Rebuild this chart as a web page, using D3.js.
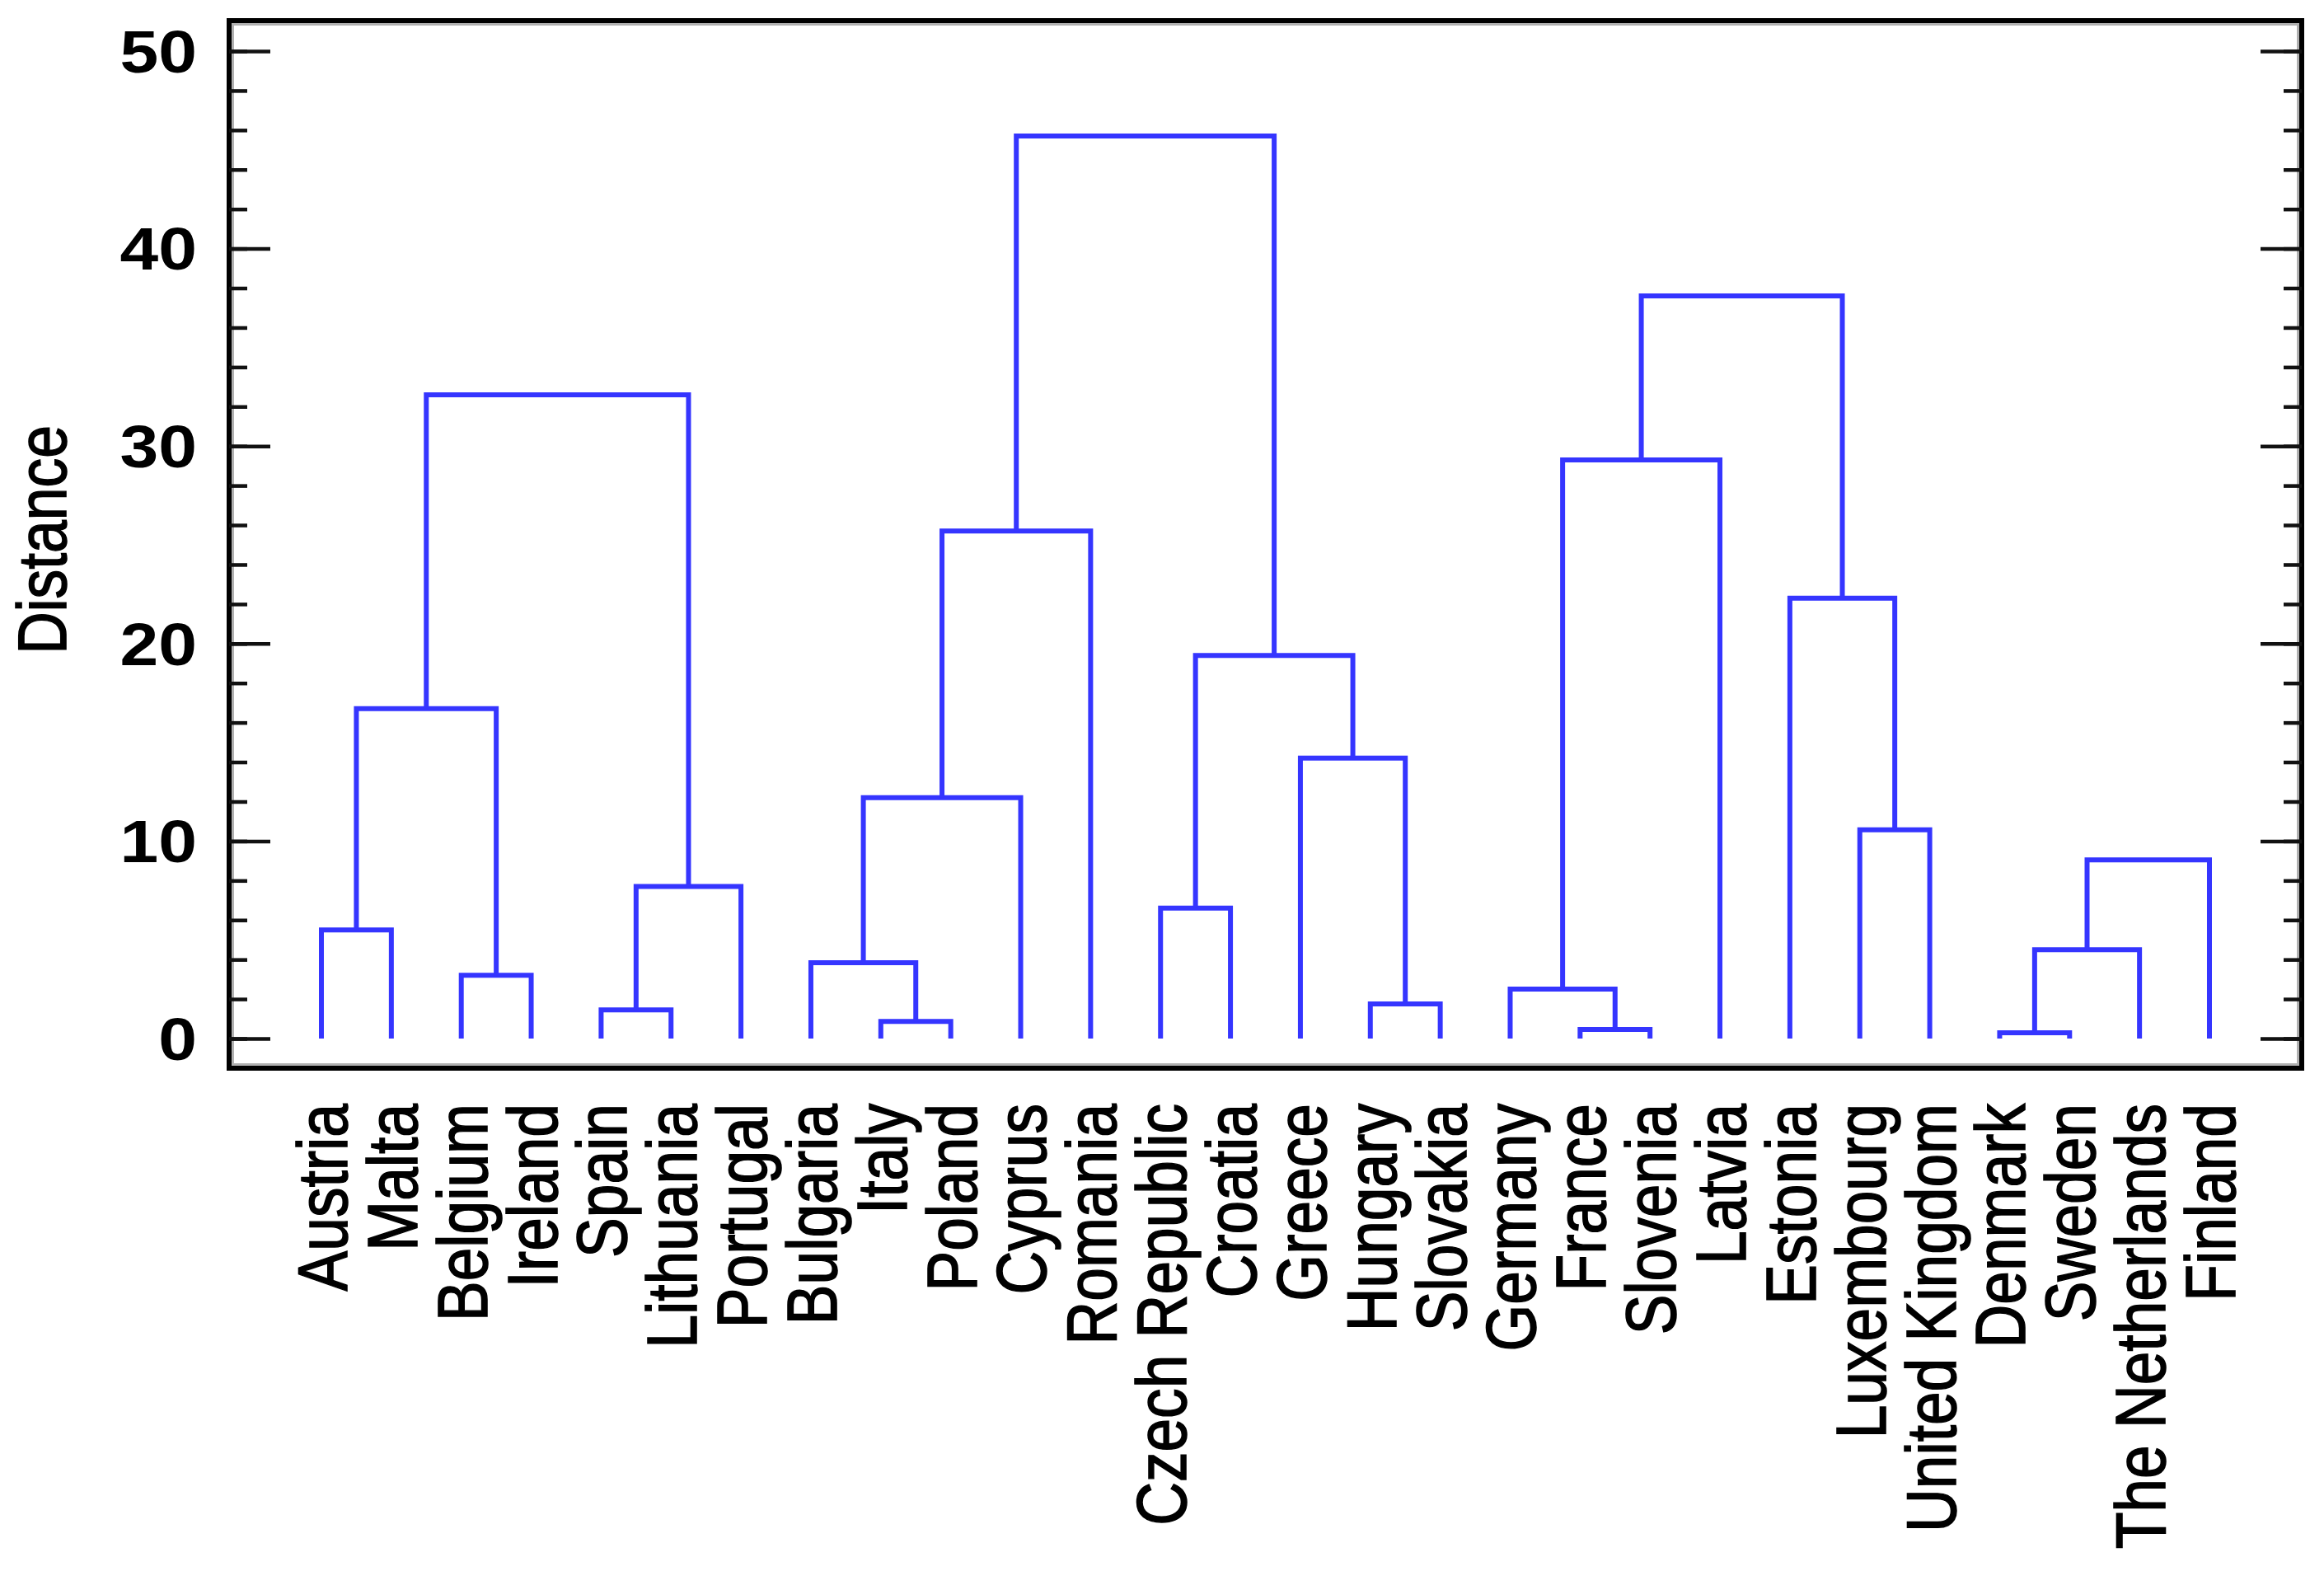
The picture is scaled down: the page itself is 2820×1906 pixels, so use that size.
<!DOCTYPE html>
<html>
<head>
<meta charset="utf-8">
<script src="https://cdn.jsdelivr.net/npm/d3@7"></script>
<style>
  body { margin: 0; background: #fff; }
  svg { display: block; }
  .label { font-family: "Liberation Sans", Arial, sans-serif; }
  .thick { stroke: #000; stroke-width: 1.6px; }
</style>
</head>
<body>
<div id="chart"></div>
<script>
// Leaves in dendrogram order (left to right)
var leaves = ["Austria", "Malta", "Belgium", "Ireland", "Spain", "Lithuania", "Portugal",
  "Bulgaria", "Italy", "Poland", "Cyprus", "Romania", "Czech Republic", "Croatia", "Greece",
  "Hungary", "Slovakia", "Germany", "France", "Slovenia", "Latvia", "Estonia", "Luxembourg",
  "United Kingdom", "Denmark", "Sweden", "The Netherlands", "Finland"];

// Merge steps: ids < 28 are leaves, id 28 + k is merge k.
var leftIds  = [0, 2, 28, 4, 31, 30, 8, 7, 35, 36, 12, 15, 14, 38, 37, 18, 17, 44, 22, 21, 45, 24, 49, 50];
var rightIds = [1, 3, 29, 5, 6, 32, 9, 34, 10, 11, 13, 16, 39, 40, 41, 19, 43, 20, 23, 46, 47, 25, 26, 27];
var heights  = [5.5, 3.2, 16.7, 1.45, 7.7, 32.6, 0.87, 3.84, 12.2, 25.7, 6.6, 1.75, 14.2, 19.4, 45.7,
  0.46, 2.5, 29.3, 10.57, 22.3, 37.6, 0.29, 4.5, 9.05];

var yTickValues = [0, 10, 20, 30, 40, 50];
var yTickLabels = ["0", "10", "20", "30", "40", "50"];
var yLabel = "Distance";

var W = 2820, H = 1906;
var frame = {left: 278, top: 25, right: 2793, bottom: 1296};
var squash = 0.85;   // text in the source is vertically compressed

var svg = d3.select("#chart").append("svg")
    .attr("width", W)
    .attr("height", H);

var x = d3.scalePoint()
    .domain(leaves)
    .range([frame.left, frame.right])
    .padding(1.32);

var y = d3.scaleLinear()
    .domain([0, 50])
    .range([1260, 62]);

// Node positions
var n = leaves.length;
var nodeX = [], nodeH = [];
leaves.forEach(function(d, i) { nodeX[i] = x(d); nodeH[i] = 0; });
heights.forEach(function(h, k) {
  var l = leftIds[k], r = rightIds[k];
  nodeX[n + k] = (nodeX[l] + nodeX[r]) / 2;
  nodeH[n + k] = h;
});

// Dendrogram links
svg.append("g")
    .selectAll("path")
    .data(heights)
    .enter().append("path")
    .attr("fill", "none")
    .attr("stroke", "#3535ff")
    .attr("stroke-width", 6)
    .attr("stroke-linejoin", "miter")
    .attr("d", function(h, k) {
      var l = leftIds[k], r = rightIds[k];
      return "M" + nodeX[l] + "," + y(nodeH[l]) +
        "V" + y(h) + "H" + nodeX[r] + "V" + y(nodeH[r]);
    });

// Frame
svg.append("rect")
    .attr("x", frame.left + 4.5)
    .attr("y", frame.top + 4.5)
    .attr("width", frame.right - frame.left - 9)
    .attr("height", frame.bottom - frame.top - 9)
    .attr("fill", "none")
    .attr("stroke", "#b0b0b0")
    .attr("stroke-width", 3);

svg.append("rect")
    .attr("x", frame.left)
    .attr("y", frame.top)
    .attr("width", frame.right - frame.left)
    .attr("height", frame.bottom - frame.top)
    .attr("fill", "none")
    .attr("stroke", "#000")
    .attr("stroke-width", 6);

// Ticks on left and right, both pointing into the plot
function drawTicks(axisFn, xPos) {
  var minor = svg.append("g")
      .attr("transform", "translate(" + xPos + ",0)")
      .call(axisFn(y).tickValues(y.ticks(25)).tickSize(22).tickFormat(""));
  var major = svg.append("g")
      .attr("transform", "translate(" + xPos + ",0)")
      .call(axisFn(y).tickValues(yTickValues).tickSize(50).tickFormat(""));
  [minor, major].forEach(function(g) {
    g.select(".domain").remove();
    g.selectAll("line").attr("stroke", "#111").attr("stroke-width", 4.5);
  });
}
drawTicks(d3.axisRight, frame.left);
drawTicks(d3.axisLeft, frame.right);

// Y tick labels
svg.append("g")
    .selectAll("g")
    .data(yTickValues)
    .enter().append("g")
    .attr("transform", function(d) { return "translate(239," + y(d) + ") scale(1," + squash + ")"; })
    .append("text")
    .attr("class", "label")
    .attr("text-anchor", "end")
    .attr("dy", "0.36em")
    .style("font-size", "84px")
    .style("font-weight", "bold")
    .text(function(d, i) { return yTickLabels[i]; });

// Y axis title
svg.append("g")
    .attr("transform", "translate(80,655) scale(1," + squash + ") rotate(-90)")
    .append("text")
    .attr("class", "label thick")
    .attr("text-anchor", "middle")
    .style("font-size", "84px")
    .text(yLabel);

// Leaf labels, rotated
svg.append("g")
    .selectAll("g")
    .data(leaves)
    .enter().append("g")
    .attr("transform", function(d) { return "translate(" + x(d) + ",1339) scale(1," + squash + ") rotate(-90)"; })
    .append("text")
    .attr("class", "label thick")
    .attr("text-anchor", "end")
    .attr("dy", "0.36em")
    .style("font-size", "86px")
    .text(function(d) { return d; });
</script>
</body>
</html>
